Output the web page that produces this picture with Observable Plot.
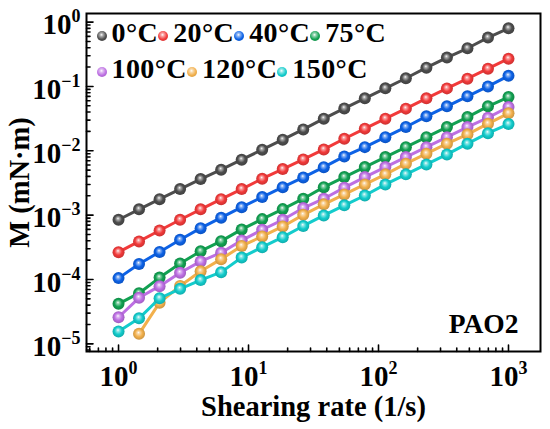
<!DOCTYPE html>
<html><head><meta charset="utf-8">
<script src="https://cdn.jsdelivr.net/npm/d3@7"></script>
<script src="https://cdn.jsdelivr.net/npm/@observablehq/plot@0.6"></script>
<style>
body{margin:0;background:#fff;}
#wrap{position:relative;width:550px;height:429px;font-family:"Liberation Serif","Times New Roman",serif;font-weight:bold;}
#legend{position:absolute;left:96.5px;top:14.5px;font-size:28px;line-height:36px;color:#000;letter-spacing:0.4px;}
.row{display:flex;align-items:center;white-space:nowrap;}
.item{display:flex;align-items:center;}
.ball{width:10px;height:10px;border-radius:50%;margin-right:5px;position:relative;top:3px;}
</style></head><body><div id="wrap"><div id="legend"></div></div>
<script>
// ---- data ----
const temps = ["0°C","20°C","40°C","75°C","100°C","120°C","150°C"];
const colors = ["#4d4d4d","#f23a3a","#0d62e6","#12a152","#bd6fe3","#f2b04c","#13cccc"];
const shearRate = [1,1.438,2.069,2.976,4.281,6.158,8.859,12.74,18.33,26.37,37.93,54.56,78.48,112.9,162.4,233.6,336.0,483.3,695.2,1000];
const m0C   = [8.48e-4,1.23e-3,1.77e-3,2.54e-3,3.63e-3,5.08e-3,7.27e-3,1.04e-2,1.49e-2,2.15e-2,3.16e-2,4.56e-2,6.53e-2,9.34e-2,0.134,0.196,0.281,0.392,0.574,0.801];
const m20C  = [2.66e-4,3.90e-4,5.78e-4,8.47e-4,1.23e-3,1.77e-3,2.54e-3,3.68e-3,5.19e-3,7.35e-3,1.05e-2,1.54e-2,2.21e-2,3.16e-2,4.52e-2,6.53e-2,9.33e-2,0.132,0.189,0.270];
const m40C  = [1.05e-4,1.74e-4,2.68e-4,4.14e-4,6.28e-4,9.12e-4,1.33e-3,1.91e-3,2.72e-3,3.85e-3,5.57e-3,8.18e-3,1.14e-2,1.63e-2,2.34e-2,3.43e-2,4.91e-2,7.02e-2,0.100,0.146];
const m75C  = [4.19e-5,6.12e-5,1.07e-4,1.77e-4,2.75e-4,3.94e-4,6.00e-4,8.67e-4,1.24e-3,1.80e-3,2.72e-3,3.90e-3,5.58e-3,7.98e-3,1.14e-2,1.63e-2,2.34e-2,3.34e-2,4.91e-2,6.84e-2];
const m100C = [2.59e-5,5.19e-5,7.87e-5,1.27e-4,1.91e-4,2.61e-4,4.05e-4,5.93e-4,8.47e-4,1.29e-3,1.80e-3,2.67e-3,3.90e-3,5.58e-3,7.98e-3,1.14e-2,1.63e-2,2.34e-2,3.27e-2,4.79e-2];
const m120C = [null,1.43e-5,4.36e-5,7.93e-5,1.34e-4,2.07e-4,3.32e-4,4.67e-4,6.67e-4,1.01e-3,1.47e-3,2.10e-3,3.00e-3,4.30e-3,6.30e-3,9.02e-3,1.29e-2,1.80e-2,2.64e-2,3.82e-2];
const m150C = [1.56e-5,2.49e-5,5.11e-5,7.16e-5,9.79e-5,1.30e-4,2.20e-4,3.18e-4,4.55e-4,6.79e-4,9.89e-4,1.42e-3,2.02e-3,3.00e-3,4.30e-3,6.14e-3,8.79e-3,1.29e-2,1.88e-2,2.60e-2];
const seriesValues = [m0C,m20C,m40C,m75C,m100C,m120C,m150C];
const xMajor = [1,10,100,1000];
const yMajor = [1e-5,1e-4,1e-3,1e-2,1e-1,1];
const xLabel = "Shearing rate (1/s)";
const yLabel = "M (mN·m)";
const sampleLabel = "PAO2";

// ---- layout ----
const xDomain = [0.567,1763], yDomain = [7.6e-6,1.36];
const within = (v,[a,b]) => v>=a && v<=b;
const minors = (decades, dom) => decades.flatMap(d => [2,3,4,5,6,7,8,9].map(k => +(k*d).toPrecision(3))).filter(v => within(v,dom));
const xMinor = minors([0.1,1,10,100,1000], xDomain);
const yMinor = minors([1e-6,1e-5,1e-4,1e-3,1e-2,1e-1,1], yDomain);
const expFmt = d => "10^" + String(Math.round(Math.log10(d))).replace("-","−");

const tickShape = {draw(ctx,l){ctx.moveTo(0,0);ctx.lineTo(0,-l);}};
const tickStyle = {anchor:"start", shape:tickShape, stroke:"black", strokeWidth:1.6};
const font = {fontSize:28.5, fontWeight:"bold", fill:"black"};

const seriesMarks = seriesValues.flatMap((vals,i) => {
  const pts = shearRate.map((x,j) => ({x, y: vals[j]})).filter(d => d.y != null);
  return [
    Plot.line(pts, {x:"x", y:"y", stroke:colors[i], strokeWidth:3}),
    Plot.dot(pts, {x:"x", y:"y", r:6, fill:`url(#ball${i})`, stroke:"none"})
  ];
});

const svg = Plot.plot({
  width:550, height:429,
  marginLeft:86, marginRight:10, marginTop:13, marginBottom:78,
  style:{fontFamily:'"Liberation Serif","Times New Roman",serif', fontWeight:"bold", color:"black", background:"white"},
  x:{type:"log", domain:xDomain},
  y:{type:"log", domain:yDomain},
  marks:[
    ...seriesMarks,
    Plot.vector(xMajor,{x:d=>d, frameAnchor:"bottom", length:6.5, ...tickStyle}),
    Plot.vector(xMinor,{x:d=>d, frameAnchor:"bottom", length:3.5, ...tickStyle}),
    Plot.vector(yMajor,{y:d=>d, frameAnchor:"left", rotate:90, length:6.5, ...tickStyle}),
    Plot.vector(yMinor,{y:d=>d, frameAnchor:"left", rotate:90, length:3.5, ...tickStyle}),
    Plot.frame({stroke:"black", strokeWidth:2}),
    Plot.axisX({ticks:xMajor, tickSize:0, tickPadding:14, tickFormat:expFmt, label:null, fontSize:29, fontWeight:"bold"}),
    Plot.axisY({ticks:yMajor, tickSize:0, tickPadding:6, tickFormat:expFmt, label:null, dy:3, fontSize:29, fontWeight:"bold"}),
    Plot.text([xLabel], {text:d=>d, frameAnchor:"bottom", dy:55, textAnchor:"middle", lineAnchor:"middle", ...font}),
    Plot.text([yLabel], {text:d=>d, frameAnchor:"left", dx:-67, rotate:-90, textAnchor:"middle", lineAnchor:"middle", ...font}),
    Plot.text([sampleLabel], {text:d=>d, frameAnchor:"bottom-right", dx:-22, dy:-27, textAnchor:"end", lineAnchor:"middle", ...font, fontSize:27.5})
  ]
});

// gradients for shaded spheres
const ns = "http://www.w3.org/2000/svg";
const defs = document.createElementNS(ns,"defs");
colors.forEach((c,i) => {
  const g = document.createElementNS(ns,"radialGradient");
  g.setAttribute("id",`ball${i}`);
  g.setAttribute("cx","50%"); g.setAttribute("cy","50%"); g.setAttribute("r","55%");
  g.setAttribute("fx","45%"); g.setAttribute("fy","38%");
  const stops = [[0,"#ffffff"],[0.18,d3.interpolateRgb(c,"#fff")(0.55)],[0.55,c],[1,d3.color(c).darker(0.6).formatHex()]];
  stops.forEach(([o,col]) => {
    const s = document.createElementNS(ns,"stop");
    s.setAttribute("offset",o); s.setAttribute("stop-color",col);
    g.appendChild(s);
  });
  defs.appendChild(g);
});
svg.insertBefore(defs, svg.firstChild);

// superscripts on tick labels
svg.querySelectorAll("text").forEach(t => {
  const s = t.textContent;
  if (s.startsWith("10^")) {
    const [base, exp] = s.split("^");
    t.textContent = base;
    const ts = document.createElementNS(ns,"tspan");
    ts.setAttribute("dy","-12");
    ts.setAttribute("font-size","18");
    ts.textContent = exp;
    t.appendChild(ts);
  }
});

document.getElementById("wrap").appendChild(svg);

// legend
const legend = document.getElementById("legend");
[[0,1,2,3],[4,5,6]].forEach(row => {
  const r = document.createElement("div"); r.className = "row";
  row.forEach(i => {
    const it = document.createElement("div"); it.className = "item";
    const b = document.createElement("span"); b.className = "ball";
    b.style.background = `radial-gradient(circle at 45% 38%, #fff 0%, ${d3.interpolateRgb(colors[i],"#fff")(0.55)} 18%, ${colors[i]} 55%, ${d3.color(colors[i]).darker(0.6).formatHex()} 100%)`;
    const tx = document.createElement("span"); tx.textContent = temps[i];
    it.appendChild(b); it.appendChild(tx); r.appendChild(it);
  });
  legend.appendChild(r);
});
legend.style.zIndex = 2;
svg.style.position = "absolute"; svg.style.left = "0"; svg.style.top = "0";
</script></body></html>
